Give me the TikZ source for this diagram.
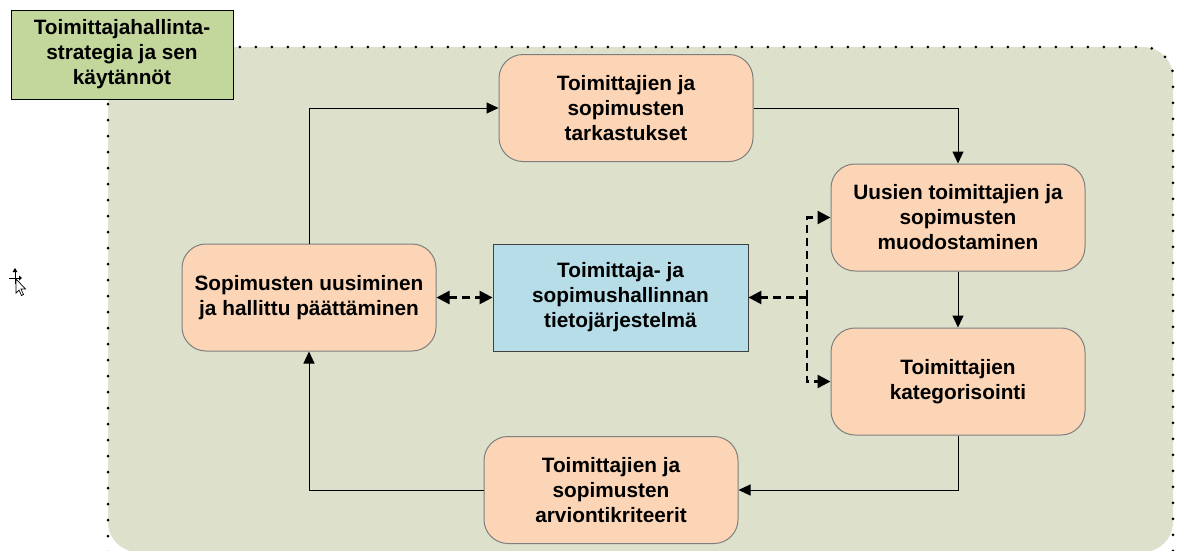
\documentclass[tikz,border=0pt]{standalone}
\usepackage{fontspec}
\setmainfont{Liberation Sans}
\usetikzlibrary{arrows.meta}
\definecolor{areafill}{HTML}{DDE0CB}
\definecolor{titlefill}{HTML}{C3D69B}
\definecolor{stepfill}{HTML}{FBD5B5}
\definecolor{stepline}{HTML}{7F7F7F}
\definecolor{sysfill}{HTML}{B7DDE8}
\tikzset{
  boxfont/.style={font=\fontsize{20.8}{25}\selectfont\bfseries},
  stepbox/.style={draw=stepline, line width=1pt, fill=stepfill, rounded corners=24pt,
    minimum width=254pt, minimum height=107pt, align=center, boxfont},
  sysbox/.style={draw=black!75, line width=0.8pt, fill=sysfill,
    minimum width=255pt, minimum height=107pt, align=center, boxfont},
  titlebox/.style={draw=black, line width=0.8pt, fill=titlefill,
    minimum width=222pt, minimum height=89pt, align=center, boxfont},
  flow/.style={draw=black, line width=1pt, -{Triangle[length=12pt,width=11pt]}},
  link/.style={draw=black, line width=2.4pt, dash pattern=on 8pt off 5pt},
  linktip/.style={-{Triangle[length=13pt,width=13pt]}},
}
\begin{document}
\begin{tikzpicture}[x=1pt,y=-1pt]
\useasboundingbox (0,0) rectangle (1181,550);
% dotted process area
\fill[areafill, rounded corners=30pt] (108,47) rectangle (1173,552);
\draw[line width=3pt, line cap=round, dash pattern=on 0pt off 16pt, rounded corners=30pt]
  (108,552) -- (108,47) -- (1173,47) -- (1173,552);

% title
\node[titlebox] (title) at (122,54.5) {Toimittajahallinta-\\strategia ja sen\\käytännöt};

% process steps
\node[stepbox] (check) at (626,108) {Toimittajien ja\\sopimusten\\tarkastukset};
\node[stepbox] (new) at (958,217.5) {Uusien toimittajien ja\\sopimusten\\muodostaminen};
\node[stepbox] (cat) at (958,381.5) {Toimittajien\\kategorisointi};
\node[stepbox] (crit) at (611,490) {Toimittajien ja\\sopimusten\\arviontikriteerit};
\node[stepbox] (renew) at (309,297.5) {Sopimusten uusiminen\\ja hallittu päättäminen};
\node[sysbox] (sys) at (620.5,297.5) {Toimittaja- ja\\sopimushallinnan\\tietojärjestelmä};

% cycle
\draw[flow] (renew.north) |- (check.west);
\draw[flow] (check.east) -| (new.north);
\draw[flow] (new.south) -- (cat.north);
\draw[flow] (cat.south) |- (crit.east);
\draw[flow] (crit.west) -| (renew.south);

% information system links
\coordinate (hub) at (807,297.5);
\draw[link, {Triangle[length=13pt,width=13pt]}-{Triangle[length=13pt,width=13pt]}] (renew.east) -- (sys.west);
\draw[link, linktip] (hub) -- (sys.east);
\draw[link, linktip] (hub) |- (new.west);
\draw[link, linktip] (hub) |- (cat.west);

% pointer cursor
\begin{scope}[line width=0.7pt]
  \draw (15,271) -- (15,284) (9,278) -- (21,278);
  \fill (15,268) -- (12.5,272) -- (17.5,272) -- cycle;
  \fill (22,278) -- (19,275.5) -- (19,280.5) -- cycle;
  \draw[fill=white] (16,279) -- (16,293) -- (19,290) -- (21.5,295.5) -- (23.5,294.5) -- (21,289) -- (25.5,289) -- cycle;
\end{scope}
\end{tikzpicture}
\end{document}
